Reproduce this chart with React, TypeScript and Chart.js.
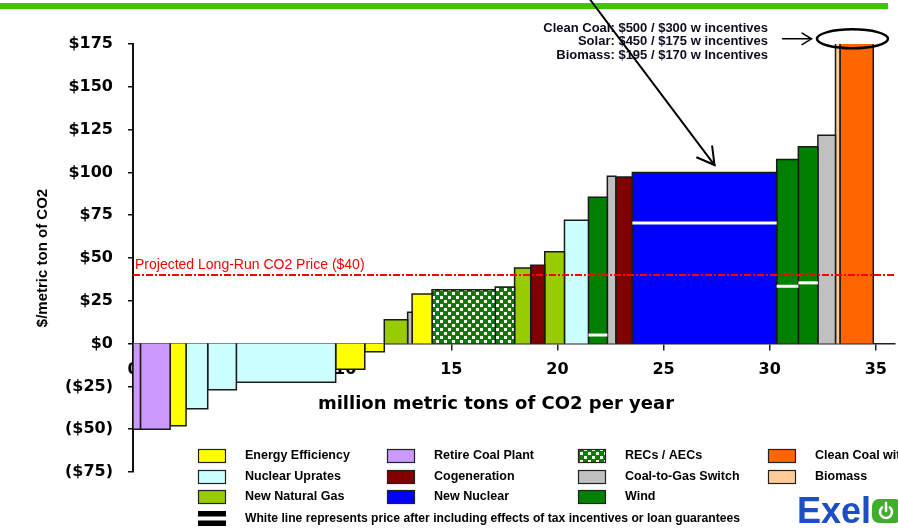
import React, { useEffect, useRef } from 'react';
import { Chart, registerables } from 'chart.js';

Chart.register(...registerables);

const TICK_FONT = "'DejaVu Sans', sans-serif";
const TEXT_FONT = "'Liberation Sans', Arial, sans-serif";

// Abatement options in merit order along the cost curve
const blockTech = [
  'Retire Coal Plant', 'Retire Coal Plant', 'Energy Efficiency', 'Nuclear Uprates',
  'Nuclear Uprates', 'Nuclear Uprates', 'Energy Efficiency', 'Energy Efficiency',
  'New Natural Gas', 'Coal-to-Gas Switch', 'Energy Efficiency', 'RECs / AECs',
  'RECs / AECs', 'New Natural Gas', 'Cogeneration', 'New Natural Gas',
  'Nuclear Uprates', 'Wind', 'Coal-to-Gas Switch', 'Cogeneration',
  'New Nuclear', 'Wind', 'Wind', 'Coal-to-Gas Switch',
  'Biomass', 'Clean Coal with CCS',
];
// million metric tons of CO2 per year abated by each option
const blockTons = [
  0.35, 1.4, 0.75, 1.02,
  1.35, 4.68, 1.37, 0.92,
  1.1, 0.21, 0.94, 2.98,
  0.91, 0.76, 0.66, 0.93,
  1.13, 0.89, 0.4, 0.78,
  6.8, 1.02, 0.92, 0.83,
  0.21, 1.57,
];
// $ per metric ton of CO2
const blockCost = [
  -50, -50, -48, -38,
  -27, -22.6, -15, -4.7,
  14, 18.3, 29, 31.5,
  33, 44.2, 45.7, 53.6,
  72, 85.5, 97.7, 97.3,
  100, 107.5, 115, 121.7,
  195, 500,
];
// $ per metric ton after tax incentives or loan guarantees (null: none shown)
const incentiveCost: (number | null)[] = [
  null, null, null, null,
  null, null, null, null,
  null, null, null, null,
  null, null, null, null,
  null, 5, null, null,
  70.5, 33.5, 35.5, null,
  null, null,
];

const longRunPrice = 40;
const priceLabel = `Projected Long-Run CO2 Price ($${longRunPrice})`;

// Off-scale options noted in the top callout
const calloutTech = ['Clean Coal', 'Solar', 'Biomass'];
const calloutCost = [500, 450, 195];
const calloutIncentive = [300, 175, 170];
const calloutSuffix = ['w incentives', 'w incentives', 'w Incentives'];

const xTitle = 'million metric tons of CO2 per year';
const yTitle = '$/metric ton of CO2';
const xMin = 0;
const xMax = 35.9;
const xStep = 5;
const yMin = -75;
const yMax = 175;
const yStep = 25;

const legendColumns = [
  ['Energy Efficiency', 'Nuclear Uprates', 'New Natural Gas'],
  ['Retire Coal Plant', 'Cogeneration', 'New Nuclear'],
  ['RECs / AECs', 'Coal-to-Gas Switch', 'Wind'],
  ['Clean Coal with CCS', 'Biomass'],
];
const incentiveNote =
  'White line represents price after including effects of tax incentives or loan guarantees';

const techColor: Record<string, string> = {
  'Energy Efficiency': '#FFFF00',
  'Nuclear Uprates': '#CCFFFF',
  'New Natural Gas': '#99CC00',
  'Retire Coal Plant': '#CC99FF',
  'Cogeneration': '#800000',
  'New Nuclear': '#0000FF',
  'RECs / AECs': '#008000',
  'Coal-to-Gas Switch': '#C0C0C0',
  'Wind': '#008000',
  'Clean Coal with CCS': '#FF6600',
  'Biomass': '#FFCC99',
};
const checkeredTech = 'RECs / AECs';

function makeChecker(): CanvasPattern | string {
  const tile = document.createElement('canvas');
  tile.width = 8;
  tile.height = 8;
  const g = tile.getContext('2d');
  if (!g) return '#008000';
  g.fillStyle = '#008000';
  g.fillRect(0, 0, 8, 8);
  g.fillStyle = '#ffffff';
  g.fillRect(0, 0, 3, 3);
  g.fillRect(4, 4, 3, 3);
  return g.createPattern(tile, 'repeat') ?? '#008000';
}

function arrowHead(ctx: CanvasRenderingContext2D, tx: number, ty: number, angle: number, len: number, spread: number) {
  ctx.beginPath();
  ctx.moveTo(tx - len * Math.cos(angle - spread), ty - len * Math.sin(angle - spread));
  ctx.lineTo(tx, ty);
  ctx.lineTo(tx - len * Math.cos(angle + spread), ty - len * Math.sin(angle + spread));
  ctx.stroke();
}

export default function App() {
  const canvasRef = useRef<HTMLCanvasElement>(null);

  useEffect(() => {
    const canvas = canvasRef.current;
    if (!canvas) return;

    const checker = makeChecker();
    const fillFor = (tech: string) => (tech === checkeredTech ? checker : techColor[tech]);

    const starts: number[] = [];
    let acc = 0;
    blockTons.forEach((t) => {
      starts.push(acc);
      acc += t;
    });

    const bars = blockTech.map((tech, i) => {
      const x0 = starts[i];
      const x1 = x0 + blockTons[i];
      const v = blockCost[i];
      return {
        type: 'line' as const,
        label: tech,
        data: [
          { x: x0, y: 0 },
          { x: x0, y: v },
          { x: x1, y: v },
          { x: x1, y: 0 },
        ],
        borderColor: '#1a1a1a',
        borderWidth: 1.5,
        borderJoinStyle: 'miter' as const,
        backgroundColor: fillFor(tech),
        fill: 'origin',
        pointRadius: 0,
        pointHoverRadius: 0,
        tension: 0,
      };
    });

    const incentiveLines: any[] = [];
    incentiveCost.forEach((c, i) => {
      if (c == null) return;
      const x0 = starts[i];
      const x1 = x0 + blockTons[i];
      incentiveLines.push({
        type: 'line',
        label: `${blockTech[i]} with incentives`,
        data: [
          { x: x0, y: c },
          { x: x1, y: c },
        ],
        borderColor: '#ffffff',
        borderWidth: 3,
        fill: false,
        pointRadius: 0,
        tension: 0,
      });
    });

    const priceLine = {
      type: 'line' as const,
      label: priceLabel,
      data: [
        { x: xMin, y: longRunPrice },
        { x: xMax, y: longRunPrice },
      ],
      borderColor: '#ff0000',
      borderWidth: 2,
      borderDash: [7, 2, 2, 2],
      fill: false,
      pointRadius: 0,
      tension: 0,
    };

    const overlay = {
      id: 'overlay',
      beforeDraw(chart: any) {
        const ctx: CanvasRenderingContext2D = chart.ctx;
        ctx.save();
        ctx.fillStyle = '#ffffff';
        ctx.fillRect(0, 0, chart.width, chart.height);
        ctx.restore();
      },
      beforeDatasetsDraw(chart: any) {
        const ctx: CanvasRenderingContext2D = chart.ctx;
        const { chartArea, scales } = chart;
        ctx.save();
        ctx.font = `bold 18px ${TICK_FONT}`;
        ctx.fillStyle = '#000';
        ctx.textAlign = 'center';
        ctx.textBaseline = 'middle';
        ctx.fillText(xTitle, (chartArea.left + chartArea.right) / 2 - 18, scales.y.getPixelForValue(0) + 61);
        ctx.restore();
      },
      afterDraw(chart: any) {
        const ctx: CanvasRenderingContext2D = chart.ctx;
        const { chartArea, scales } = chart;
        const xs = scales.x;
        const ys = scales.y;
        ctx.save();

        // header rule
        ctx.fillStyle = '#36CC00';
        ctx.fillRect(0, 3, 888, 6);

        // long-run price label
        ctx.font = `14px ${TEXT_FONT}`;
        ctx.fillStyle = '#ff0000';
        ctx.textAlign = 'left';
        ctx.textBaseline = 'alphabetic';
        ctx.fillText(priceLabel, chartArea.left + 2, ys.getPixelForValue(longRunPrice) - 6);

        // callout for off-scale options
        ctx.font = `bold 13px ${TEXT_FONT}`;
        ctx.fillStyle = '#0d0d1f';
        ctx.textAlign = 'right';
        ctx.textBaseline = 'middle';
        calloutTech.forEach((name, i) => {
          const text = `${name}: $${calloutCost[i]} / $${calloutIncentive[i]} ${calloutSuffix[i]}`;
          ctx.fillText(text, 768, 28 + i * 13.5);
        });

        ctx.strokeStyle = '#000';
        ctx.lineCap = 'round';

        // ellipse round the clipped bars
        const cx = xs.getPixelForValue(33.9);
        const cy = ys.getPixelForValue(178);
        ctx.lineWidth = 2.5;
        ctx.beginPath();
        ctx.ellipse(cx, cy, 35.5, 9.5, 0, 0, Math.PI * 2);
        ctx.stroke();

        // short pointer to the ellipse
        ctx.lineWidth = 1.5;
        ctx.beginPath();
        ctx.moveTo(cx - 70, cy);
        ctx.lineTo(cx - 41, cy);
        ctx.stroke();
        arrowHead(ctx, cx - 41, cy, 0, 11, 0.55);

        // pointer into the new nuclear block
        const sx = xs.getPixelForValue(21.55);
        const sy = ys.getPixelForValue(200.7);
        const tx = xs.getPixelForValue(27.4);
        const ty = ys.getPixelForValue(104.3);
        ctx.lineWidth = 2;
        ctx.beginPath();
        ctx.moveTo(sx, sy);
        ctx.lineTo(tx, ty);
        ctx.stroke();
        arrowHead(ctx, tx, ty, Math.atan2(ty - sy, tx - sx), 19, 0.52);

        // legend
        const colX = [198, 387, 578, 768];
        const rowY = [456, 477, 497];
        ctx.font = `bold 12.5px ${TEXT_FONT}`;
        ctx.textAlign = 'left';
        ctx.textBaseline = 'middle';
        legendColumns.forEach((col, ci) => {
          col.forEach((label, ri) => {
            const x = colX[ci];
            const y = rowY[ri];
            ctx.fillStyle = fillFor(label);
            ctx.fillRect(x, y - 7, 28, 14);
            ctx.strokeStyle = '#222';
            ctx.lineWidth = 1.2;
            ctx.strokeRect(x + 0.5, y - 6.5, 27, 13);
            ctx.fillStyle = '#000';
            ctx.fillText(label, x + 47, y);
          });
        });
        ctx.fillStyle = '#000';
        ctx.fillRect(198, 511, 28, 15);
        ctx.fillStyle = '#fff';
        ctx.fillRect(198, 516.5, 28, 4);
        ctx.fillStyle = '#000';
        ctx.fillText(incentiveNote, 245, 519, 495);

        // company mark
        ctx.font = `bold 36px ${TEXT_FONT}`;
        ctx.fillStyle = '#1d4fc4';
        ctx.textBaseline = 'alphabetic';
        ctx.fillText('Exel', 797, 523);
        ctx.fillStyle = '#3fae2a';
        ctx.beginPath();
        ctx.roundRect(872, 499, 30, 24, 7);
        ctx.fill();
        ctx.strokeStyle = '#fff';
        ctx.lineWidth = 2.5;
        ctx.beginPath();
        ctx.arc(886, 512, 6, -Math.PI / 2 + 0.7, Math.PI * 1.5 - 0.7);
        ctx.stroke();
        ctx.beginPath();
        ctx.moveTo(886, 503);
        ctx.lineTo(886, 511);
        ctx.stroke();

        ctx.restore();
      },
    };

    const chart = new Chart(canvas, {
      type: 'line',
      data: { datasets: [priceLine, ...incentiveLines, ...bars] as any },
      options: {
        responsive: false,
        animation: false,
        events: [],
        layout: { padding: { top: 44, bottom: 57, left: 0, right: 2 } },
        plugins: {
          legend: { display: false },
          tooltip: { enabled: false },
        },
        scales: {
          x: {
            type: 'linear',
            min: xMin,
            max: xMax,
            position: { y: 0 } as any,
            ticks: {
              stepSize: xStep,
              includeBounds: false,
              color: '#000',
              padding: 11,
              maxRotation: 0,
              font: { family: TICK_FONT, size: 16, weight: 'bold' },
            },
            grid: { drawOnChartArea: false, drawTicks: true, tickLength: 6, color: '#222', lineWidth: 1.5 },
            border: { display: true, color: '#222', width: 1.5 },
          },
          y: {
            type: 'linear',
            min: yMin,
            max: yMax,
            ticks: {
              stepSize: yStep,
              color: '#000',
              padding: 15,
              font: { family: TICK_FONT, size: 16, weight: 'bold' },
              callback: (v: any) => (Number(v) < 0 ? `($${-Number(v)})` : `$${v}`),
            },
            grid: { drawOnChartArea: false, drawTicks: true, tickLength: 5, color: '#111', lineWidth: 1.5 },
            border: { display: true, color: '#111', width: 2 },
            title: {
              display: true,
              text: yTitle,
              color: '#000',
              font: { family: TEXT_FONT, size: 15, weight: 'bold' },
              padding: { top: 34, bottom: 0 },
            },
            afterFit: (scale: any) => {
              scale.width = 133;
            },
          },
        },
      },
      plugins: [overlay],
    });

    return () => chart.destroy();
  }, []);

  return (
    <div style={{ position: 'fixed', left: 0, top: 0, width: 898, height: 529, background: '#fff' }}>
      <canvas ref={canvasRef} width={898} height={529} style={{ display: 'block', width: 898, height: 529 }} />
    </div>
  );
}
